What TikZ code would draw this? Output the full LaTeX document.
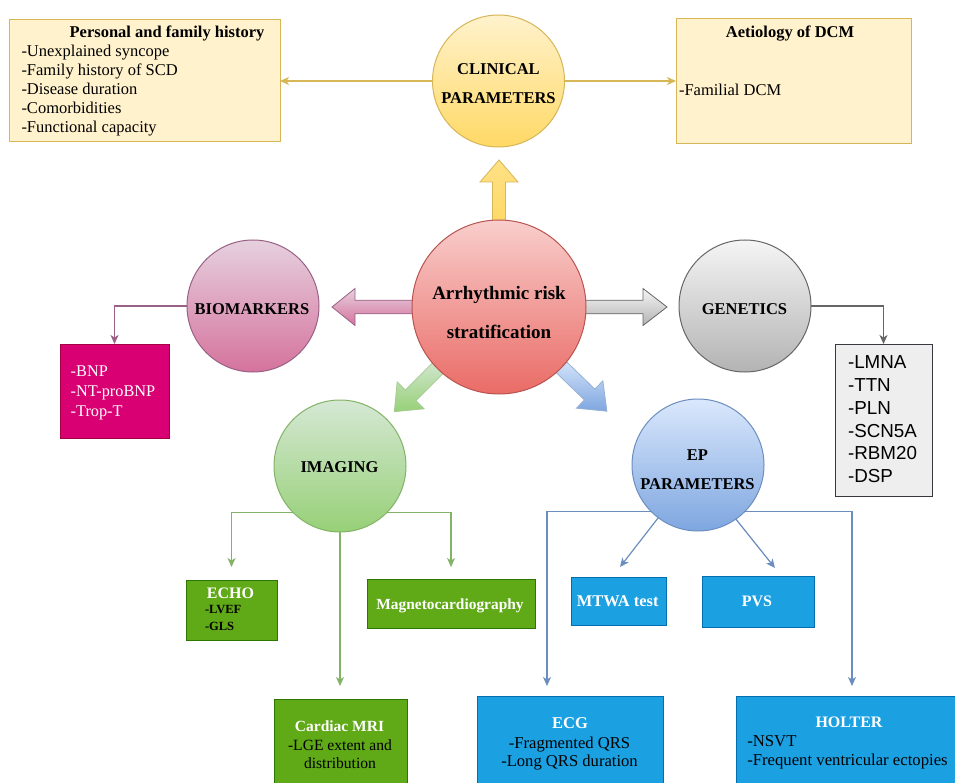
\documentclass[tikz,border=0pt]{standalone}
\usepackage{fontspec}
\setmainfont{Liberation Serif}
\newfontfamily\arialf{Liberation Sans}
\usetikzlibrary{arrows.meta,calc,backgrounds}
\definecolor{yelF}{HTML}{FFF2CC}
\definecolor{yelM}{HTML}{FFD966}
\definecolor{yelD}{HTML}{D6B656}
\definecolor{redL}{HTML}{F8CECC}
\definecolor{redM}{HTML}{EA6B66}
\definecolor{redD}{HTML}{B85450}
\definecolor{pinkL}{HTML}{E6D0DE}
\definecolor{pinkM}{HTML}{D5739D}
\definecolor{pinkD}{HTML}{996185}
\definecolor{grayL}{HTML}{F5F5F5}
\definecolor{grayM}{HTML}{B3B3B3}
\definecolor{grayD}{HTML}{666666}
\definecolor{grnL}{HTML}{D5E8D4}
\definecolor{grnM}{HTML}{97D077}
\definecolor{grnD}{HTML}{82B366}
\definecolor{bluL}{HTML}{DAE8FC}
\definecolor{bluM}{HTML}{7EA6E0}
\definecolor{bluD}{HTML}{6C8EBF}
\definecolor{magF}{HTML}{D80073}
\definecolor{magD}{HTML}{A50040}
\definecolor{gboxF}{HTML}{60A917}
\definecolor{gboxD}{HTML}{2D7600}
\definecolor{bboxF}{HTML}{1BA1E2}
\definecolor{bboxD}{HTML}{006EAF}
\definecolor{genF}{HTML}{EEEEEE}
\definecolor{genD}{HTML}{36393D}
\newcommand\mylines[2][l]{\begin{tabular}[t]{@{}#1@{}}#2\end{tabular}}
\newcommand\fs[2]{\fontsize{#1}{#2}\selectfont}
% #1 style, #2 node, #3 angle, #4 start, #5 head base, #6 tip, #7 shaft half width, #8 head half width
\newcommand\blkarrow[8]{%
  \path[#1] ($(#2.center)+(#3:#4)+(#3+90:#7)$) -- ($(#2.center)+(#3:#5)+(#3+90:#7)$)
   -- ($(#2.center)+(#3:#5)+(#3+90:#8)$) -- ($(#2.center)+(#3:#6)$)
   -- ($(#2.center)+(#3:#5)+(#3-90:#8)$) -- ($(#2.center)+(#3:#5)+(#3-90:#7)$)
   -- ($(#2.center)+(#3:#4)+(#3-90:#7)$) -- cycle;}
\begin{document}
\begin{tikzpicture}[x=1pt,y=-1pt,
  box/.style={rectangle, inner sep=0pt, outer sep=0pt, line width=1pt},
  circ/.style={circle, inner sep=0pt, outer sep=0pt, line width=1pt, minimum size=132pt},
  lbl/.style={inner sep=0pt, outer sep=0pt},
  conn/.style={line width=1.2pt, -{Stealth[length=9pt,width=8pt,inset=2.5pt]}},
  blk/.style={line width=0.8pt},
  ctitle/.style={lbl, anchor=base, font=\bfseries\fs{16.5}{29}},
  wtitle/.style={lbl, anchor=base, text=white, font=\bfseries\fs{16}{19}}]
\useasboundingbox (0,0) rectangle (955,783);
\clip (0,0) rectangle (955,783);

% ---------- top boxes ----------
\node[box, fill=yelF, draw=yelD, minimum width=271pt, minimum height=122pt] (pers) at (144.5,81) {};
\node[lbl, anchor=base, font=\bfseries\fs{16.5}{19}] (perst) at (167,38) {Personal and family history};
\node[lbl, anchor=base west, font=\fs{16.5}{19}] (persl) at (21.5,57)
  {\mylines{-Unexplained syncope\\-Family history of SCD\\-Disease duration\\-Comorbidities\\-Functional capacity}};

\node[box, fill=yelF, draw=yelD, minimum width=235pt, minimum height=125pt] (aet) at (793.5,81) {};
\node[lbl, anchor=base, font=\bfseries\fs{16.5}{19}] (aett) at (790,38) {Aetiology of DCM};
\node[lbl, anchor=base west, font=\fs{16.5}{19}] (aetl) at (679,96) {-Familial DCM};

% ---------- circles ----------
\node[circ, draw=yelD, top color=yelF, bottom color=yelM] (clin) at (498.5,81) {};
\node[ctitle] (clint) at (498.5,75) {\mylines[c]{CLINICAL\\PARAMETERS}};

\node[circ, draw=redD, top color=redL, bottom color=redM, minimum size=174pt] (risk) at (499,307) {};
\node[lbl, anchor=base, font=\bfseries\fs{19}{39}] (riskt) at (499,299.3) {\mylines[c]{Arrhythmic risk\\stratification}};

\node[circ, draw=pinkD, top color=pinkL, bottom color=pinkM] (bio) at (253,306) {};
\node[ctitle] (biot) at (252,315) {BIOMARKERS};

\node[circ, draw=grayD, top color=grayL, bottom color=grayM] (gen) at (745,306) {};
\node[ctitle] (gent) at (744.5,315) {GENETICS};

\node[circ, draw=grnD, top color=grnL, bottom color=grnM] (img) at (340,466) {};
\node[ctitle] (imgt) at (339.5,472.7) {IMAGING};

\node[circ, draw=bluD, top color=bluL, bottom color=bluM] (ep) at (698,465) {};
\node[ctitle, font=\bfseries\fs{16.5}{29.3}] (ept) at (697.5,460) {\mylines[c]{EP\\PARAMETERS}};

% ---------- leaf boxes ----------
\node[box, fill=magF, draw=magD, minimum width=109pt, minimum height=94pt] (bnp) at (114.5,391) {};
\node[lbl, anchor=base west, text=white, font=\fs{16.3}{19.7}] (bnpl) at (70.7,376.7)
  {\mylines{-BNP\\-NT-proBNP\\-Trop-T}};

\node[box, fill=genF, draw=genD, minimum width=97pt, minimum height=152pt] (genbox) at (883.5,420) {};
\node[lbl, anchor=base west, font=\arialf\fs{18.8}{22.9}] (genl) at (848,368.3)
  {\mylines{-LMNA\\-TTN\\-PLN\\-SCN5A\\-RBM20\\-DSP}};

\node[box, fill=gboxF, draw=gboxD, minimum width=91pt, minimum height=60pt] (echo) at (231.5,610) {};
\node[wtitle] (echot) at (230.5,598.3) {ECHO};
\node[lbl, anchor=base west, font=\bfseries\fs{12.5}{17}] (echol) at (205,613.3) {\mylines{-LVEF\\-GLS}};

\node[box, fill=gboxF, draw=gboxD, minimum width=168pt, minimum height=49pt] (magn) at (451,603.5) {};
\node[wtitle, font=\bfseries\fs{15.4}{19}] (magnt) at (450,609.3) {Magnetocardiography};

\node[box, fill=gboxF, draw=gboxD, minimum width=133pt, minimum height=101pt] (mri) at (340.5,749.5) {};
\node[wtitle, font=\bfseries\fs{15.5}{19}] (mrit) at (339.5,731.7) {Cardiac MRI};
\node[lbl, anchor=base, font=\fs{15.6}{17.6}] (mril) at (340,750.7) {\mylines[c]{-LGE extent and\\distribution}};

\node[box, fill=bboxF, draw=bboxD, minimum width=95pt, minimum height=48pt] (mtwa) at (618.5,601) {};
\node[wtitle, font=\bfseries\fs{16.4}{19}] (mtwat) at (617.7,606.7) {MTWA test};

\node[box, fill=bboxF, draw=bboxD, minimum width=112pt, minimum height=51pt] (pvs) at (758,601.5) {};
\node[wtitle] (pvst) at (757,606.7) {PVS};

\node[box, fill=bboxF, draw=bboxD, minimum width=186pt, minimum height=104pt] (ecg) at (570,748) {};
\node[wtitle, font=\bfseries\fs{16.5}{19}] (ecgt) at (570,728.3) {ECG};
\node[lbl, anchor=base, font=\fs{16.6}{18.4}] (ecgl) at (569.5,748.3) {\mylines[c]{-Fragmented QRS\\-Long QRS duration}};

\node[box, fill=bboxF, draw=bboxD, minimum width=234pt, minimum height=104pt] (holter) at (853,748) {};
\node[wtitle] (holtert) at (849,727.3) {HOLTER};
\node[lbl, anchor=base west, font=\fs{16.7}{19}] (holterl) at (747.3,746.7) {\mylines{-NSVT\\-Frequent ventricular ectopies}};

% ---------- thin connectors ----------
\draw[conn, yelD] (clin.west) -- (pers.east);
\draw[conn, yelD] (clin.east) -- (aet.west);
\draw[conn, pinkD] (bio.west) -| (bnp.north);
\draw[conn, grayD] (gen.east) -| (genbox.north);
\draw[conn, grnD, shorten >=13pt] (img.225) -| (echo.north);
\draw[conn, grnD, shorten >=12pt] (img.-45) -| (magn.north);
\draw[conn, grnD, shorten >=13pt] (img.south) -- (img.south |- mri.north);
\coordinate (ecgin) at (547,696);
\coordinate (holterin) at (852,696);
\coordinate (mtwain) at (620,567);
\coordinate (pvsin) at (775,568);
\draw[conn, bluD, shorten >=10pt] (ep.225) -| (ecgin);
\draw[conn, bluD, shorten >=10pt] (ep.-45) -| (holterin);
\draw[conn, bluD] (ep.233) -- (mtwain);
\draw[conn, bluD] (ep.-55) -- (pvsin);

% ---------- block arrows (behind circles) ----------
\begin{pgfonlayer}{background}
\fill[white] (0,0) rectangle (955,783);
\blkarrow{blk, draw=yelD, top color=yelM!70!yelF, bottom color=yelM}{risk}{270}{80}{125}{147}{6.5}{19}
\blkarrow{blk, draw=pinkD, top color=pinkL, bottom color=pinkM}{risk}{180}{80}{144}{167}{6.8}{18.5}
\blkarrow{blk, draw=grayD, top color=grayL, bottom color=grayM}{risk}{0}{80}{144}{168}{6.8}{18.5}
\blkarrow{blk, draw=grnD!70, top color=grnL, bottom color=grnM}{risk}{135}{80}{125}{148}{7.5}{19}
\blkarrow{blk, draw=bluD!70, top color=bluL, bottom color=bluM}{risk}{44}{80}{126}{150}{7.5}{19}
\end{pgfonlayer}
\end{tikzpicture}
\end{document}
